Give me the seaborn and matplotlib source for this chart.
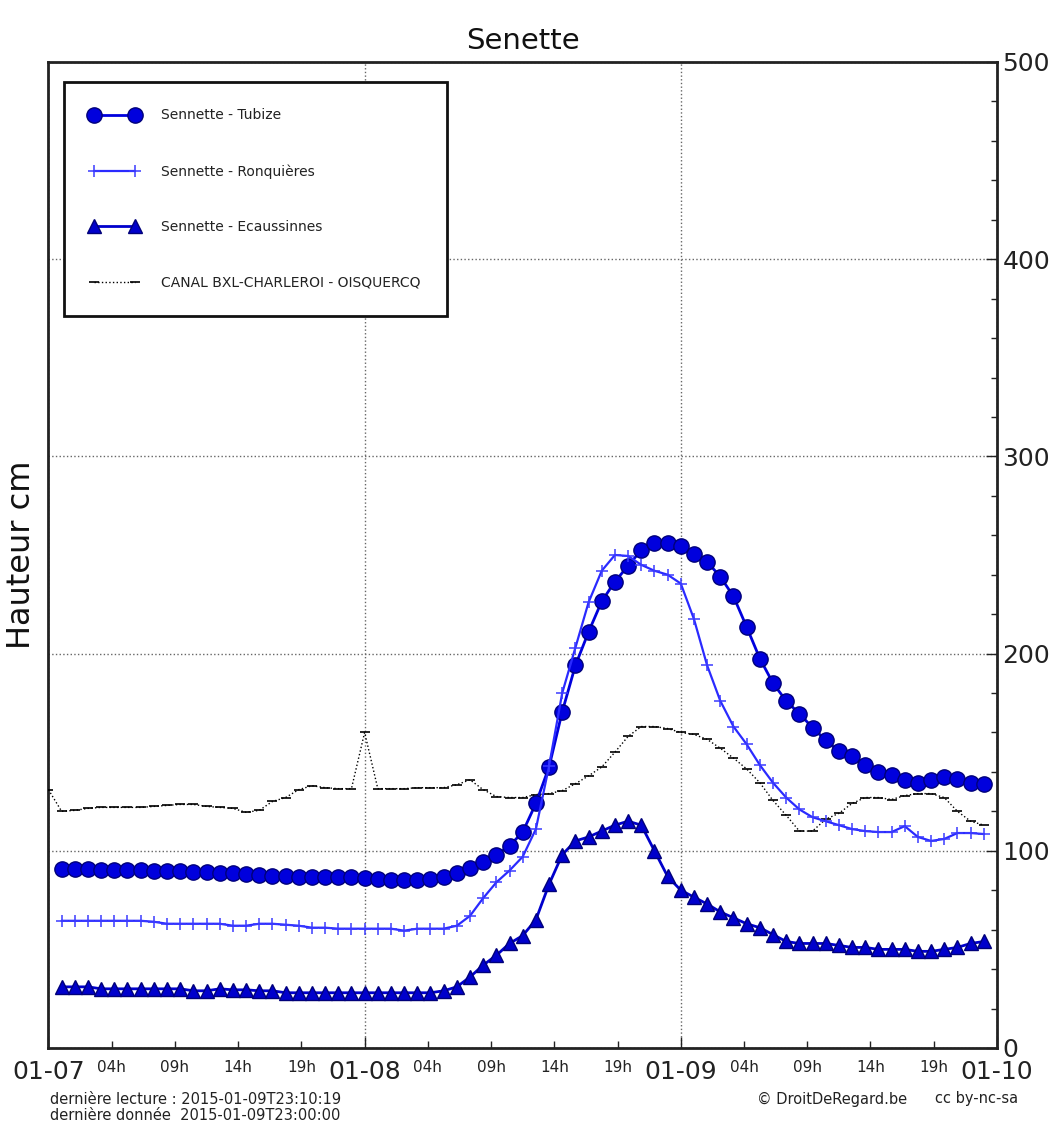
import numpy as np
import pandas as pd
import matplotlib
matplotlib.use("Agg")
import matplotlib.pyplot as plt
import seaborn as sns

# ---------------- data (hours since 2015-01-07 00:00) ----------------
hours = list(range(1, 72))
tubize = [91, 91, 91, 90.5, 90.5, 90.5, 90.5, 90, 90, 89.5,
          89, 89, 88.5, 88.5, 88, 87.5, 87, 87, 86.5, 86.5,
          86.5, 86.5, 86.5, 86, 85.5, 85, 85, 85, 85.5, 86.5,
          88.5, 91.5, 94.5, 98, 102.5, 109.5, 124, 142.5, 170.5, 194,
          211, 226.5, 236.5, 244.5, 252.5, 256, 256, 254.5, 250.5, 246.5,
          239, 229, 213.5, 197.5, 185, 176, 169.5, 162.5, 156, 150.5,
          148, 143.5, 140, 138.5, 136, 134.5, 136, 137.5, 136.5, 134.5,
          134]
ronquieres = [64.5, 64.5, 64.5, 64.5, 64.5, 64.5, 64.5, 64, 63, 63,
              63, 63, 63, 62, 62, 63, 63, 62.5, 62, 61,
              61, 60.5, 60.5, 60.5, 60.5, 60.5, 59.5, 60.5, 60.5, 60.5,
              62, 67, 76, 84, 90, 97, 111, 143, 180, 203,
              226, 242, 250, 249.5, 245, 242, 240, 235.5, 217.5, 194,
              176, 163, 154, 143.5, 134.5, 127, 121, 117, 115, 113,
              111, 110, 109.5, 109.5, 112.5, 107, 105, 106, 109, 109,
              108.5]
ecaussinnes = [31, 31, 31, 30, 30, 30, 30, 30, 30, 30,
               29, 29, 30, 29.5, 29.5, 29, 29, 28, 28, 28,
               28, 28, 28, 28, 28, 28, 28, 28, 28, 29,
               31, 36, 42, 47, 53, 57, 65, 83, 98, 105,
               107, 110, 113, 115, 113, 100, 87, 80, 76.5, 73,
               69, 66, 63, 61, 57.5, 54, 53, 53, 53, 52,
               51, 51, 50, 50, 50, 49, 49, 50, 51, 53,
               54]
canal_hours = list(range(0, 72))
canal = [131, 120, 120.5, 121.5, 122, 122, 122, 122, 122.5, 123,
         123.5, 123.5, 122.5, 122, 121.5, 119.5, 120.5, 125, 127, 131,
         133, 132, 131.5, 131.5, 160, 131.5, 131.5, 131.5, 132, 132,
         132, 133.5, 136, 131, 127.5, 127, 127, 128.5, 129, 130.5,
         134, 138, 142.5, 150, 158, 163, 163, 162, 160, 159,
         156.5, 152, 147, 141.5, 134.5, 125.5, 118, 110, 110, 116,
         119, 124, 127, 127, 126, 128, 129, 129, 127, 120,
         115, 113]

series_names = ["Sennette - Tubize", "Sennette - Ronquières",
                "Sennette - Ecaussinnes", "CANAL BXL-CHARLEROI - OISQUERCQ"]

major_ticks = [0, 24, 48, 72]
major_labels = ["01-07", "01-08", "01-09", "01-10"]
# each day split in five equal parts (04:48, 09:36, 14:24, 19:12)
minor_ticks = [4.8, 9.6, 14.4, 19.2, 28.8, 33.6, 38.4, 43.2, 52.8, 57.6, 62.4, 67.2]
minor_labels = ["04h", "09h", "14h", "19h"] * 3
y_ticks = [0, 100, 200, 300, 400, 500]

title = "Senette"
ylabel = "Hauteur cm"
footer_line1 = "dernière lecture : 2015-01-09T23:10:19"
footer_line2 = "dernière donnée  2015-01-09T23:00:00"
footer_mid = "© DroitDeRegard.be"
footer_right = "cc by-nc-sa"

# ---------------- style ----------------
sns.set_theme(style="white")
plt.rcParams["font.family"] = ["DejaVu Sans"]

fig = plt.figure(figsize=(10.58, 11.31), dpi=100)
ax = fig.add_axes([0.0458, 0.0734, 0.8965, 0.8718])

df_main = pd.DataFrame({"h": hours, "tub": tubize, "ron": ronquieres, "eca": ecaussinnes})
df_canal = pd.DataFrame({"h": canal_hours, "canal": canal})

sns.lineplot(data=df_main, x="h", y="tub", ax=ax, color="#0000dd", lw=2,
             marker="o", markersize=11, markeredgecolor="#00007a", markeredgewidth=1,
             label=series_names[0], zorder=4)
sns.lineplot(data=df_main, x="h", y="ron", ax=ax, color="#2a2aff", lw=1.6,
             marker="+", markersize=9, markeredgewidth=1.1, markeredgecolor="#3a3aff",
             label=series_names[1], zorder=5)
sns.lineplot(data=df_main, x="h", y="eca", ax=ax, color="#0000cc", lw=2,
             marker="^", markersize=10, markeredgecolor="#00007a", markeredgewidth=1,
             label=series_names[2], zorder=4)
sns.lineplot(data=df_canal, x="h", y="canal", ax=ax, color="black", lw=1,
             linestyle=":", marker="_", markersize=7, markeredgewidth=1.2,
             markeredgecolor="black", label=series_names[3], zorder=3)

ax.set_xlim(0, 72)
ax.set_ylim(0, 500)

ax.set_xticks(major_ticks)
ax.set_xticklabels(major_labels, fontsize=18)
ax.set_xticks(minor_ticks, minor=True)
ax.set_xticklabels(minor_labels, minor=True, fontsize=11)
ax.tick_params(axis="x", which="both", direction="in", bottom=True, top=False,
               pad=9, colors="#222222")
ax.tick_params(axis="x", which="major", length=8, width=1)
ax.tick_params(axis="x", which="minor", length=5, width=1)

ax.yaxis.tick_right()
ax.yaxis.set_label_position("left")
ax.set_yticks(y_ticks)
ax.set_yticklabels([str(v) for v in y_ticks], fontsize=18)
ax.set_yticks(list(range(0, 501, 20)), minor=True)
ax.tick_params(axis="y", which="both", direction="in", right=True, left=False,
               pad=4, colors="#222222")
ax.tick_params(axis="y", which="major", length=8, width=1)
ax.tick_params(axis="y", which="minor", length=4, width=1)

ax.grid(True, which="major", linestyle=":", color="#666666", linewidth=1)
for sp in ax.spines.values():
    sp.set_visible(True)
    sp.set_color("#222222")
    sp.set_linewidth(2)

ax.set_xlabel("")
ax.set_ylabel(ylabel, fontsize=23, labelpad=8, color="#111111")
ax.set_title(title, fontsize=21, pad=9, color="#111111")

handles, labels = ax.get_legend_handles_labels()
leg = ax.legend(handles, labels, loc="upper left", bbox_to_anchor=(0.0163, 0.9797),
                borderaxespad=0, fontsize=10, numpoints=2, handlelength=3.5,
                handletextpad=1.6, labelspacing=3.0, borderpad=1.9,
                frameon=True, fancybox=False, framealpha=1, edgecolor="#111111")
leg.get_frame().set_linewidth(2)
for t in leg.get_texts():
    t.set_color("#222222")

fig.text(0.047, 1 - 1099 / 1131, footer_line1, fontsize=10.5, ha="left", va="center", color="#222222")
fig.text(0.047, 1 - 1116 / 1131, footer_line2, fontsize=10.5, ha="left", va="center", color="#222222")
fig.text(0.7155, 1 - 1099 / 1131, footer_mid, fontsize=10.5, ha="left", va="center", color="#222222")
fig.text(0.8837, 1 - 1099 / 1131, footer_right, fontsize=10.5, ha="left", va="center", color="#222222")

fig.savefig("out.png", dpi=100)
